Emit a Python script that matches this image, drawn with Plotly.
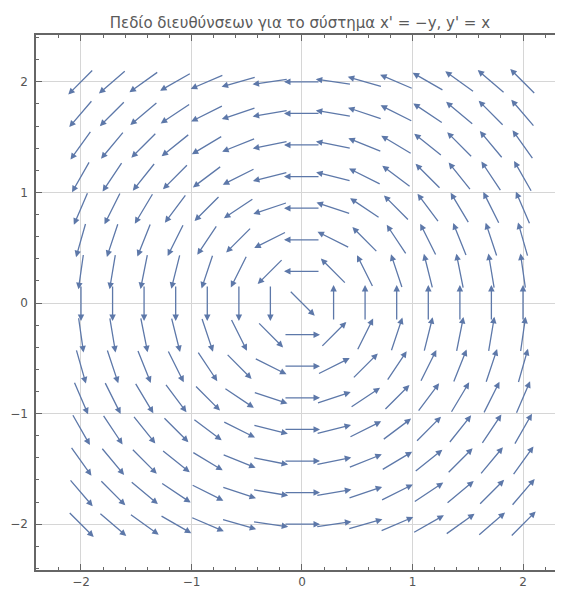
import plotly.graph_objects as go
import math

# Grid of sample points (15 x 15) over [-2, 2]
grid_x = [-2.0, -1.714, -1.429, -1.143, -0.857, -0.571, -0.286, 0.0,
          0.286, 0.571, 0.857, 1.143, 1.429, 1.714, 2.0]
grid_y = [-2.0, -1.714, -1.429, -1.143, -0.857, -0.571, -0.286, 0.0,
          0.286, 0.571, 0.857, 1.143, 1.429, 1.714, 2.0]
# System: x' = -y, y' = x ; zero vector at origin is drawn diagonally (as in the picture)
origin_dir = (1.0, -1.0)
arrow_len = 0.326          # uniform arrow length (data units)

title_text = "Πεδίο διευθύνσεων για το σύστημα x' = −y, y' = x"
tick_vals = [-2, -1, 0, 1, 2]
tick_text = ["−2", "−1", "0", "1", "2"]

ARROW_COLOR = "#5d78a9"

annotations = []
for gy in grid_y:
    for gx in grid_x:
        u, v = -gy, gx
        m = math.hypot(u, v)
        if m < 1e-9:
            u, v = origin_dir
            m = math.hypot(u, v)
        dx, dy = u / m * arrow_len / 2, v / m * arrow_len / 2
        annotations.append(dict(
            x=gx + dx, y=gy + dy, ax=gx - dx, ay=gy - dy,
            xref="x", yref="y", axref="x", ayref="y",
            text="", showarrow=True, arrowhead=2, arrowsize=1.0,
            arrowwidth=1.3, arrowcolor=ARROW_COLOR, standoff=0, startstandoff=0,
        ))

fig = go.Figure()
fig.add_trace(go.Scatter(x=[0], y=[0], mode="markers", marker=dict(opacity=0),
                         hoverinfo="skip", showlegend=False))
fig.add_trace(go.Scatter(x=[0], y=[0], mode="markers", marker=dict(opacity=0),
                         hoverinfo="skip", showlegend=False, xaxis="x2"))

FRAME = "#666666"
GRID = "#d6d6d6"
FONT = dict(family="DejaVu Sans, Liberation Sans, sans-serif", size=12, color="#555555")

# page body has an 8px margin: figure sized/offset to compensate
fig.update_layout(
    width=555, height=581,
    margin=dict(l=28, r=0, t=27, b=19),
    paper_bgcolor="white", plot_bgcolor="white",
    annotations=annotations,
    title=dict(text=title_text, x=0.526, xanchor="center", y=1 - 15 / 581, yanchor="middle",
               font=dict(family="DejaVu Sans, Liberation Sans, sans-serif", size=15, color="#5a5a5a")),
    xaxis=dict(range=[-2.407, 2.362], tickvals=tick_vals, ticktext=tick_text,
               showgrid=True, gridcolor=GRID, gridwidth=1, zeroline=False,
               showline=True, linecolor=FRAME, linewidth=1.5,
               ticks="inside", ticklen=6, tickcolor=FRAME, tickwidth=1,
               minor=dict(dtick=0.2, tick0=0, ticks="inside", ticklen=3.5, tickcolor=FRAME, showgrid=False),
               tickfont=FONT, ticklabelstandoff=0, fixedrange=True),
    xaxis2=dict(range=[-2.407, 2.362], overlaying="x", side="top", matches="x",
                tickvals=tick_vals, showticklabels=False, showgrid=False, zeroline=False,
                showline=True, linecolor=FRAME, linewidth=1.5,
                ticks="inside", ticklen=6, tickcolor=FRAME, tickwidth=1,
                minor=dict(dtick=0.2, tick0=0, ticks="inside", ticklen=3.5, tickcolor=FRAME, showgrid=False)),
    yaxis=dict(range=[-2.414, 2.423], tickvals=tick_vals, ticktext=tick_text,
               showgrid=True, gridcolor=GRID, gridwidth=1, zeroline=False,
               showline=True, linecolor=FRAME, linewidth=1.5,
               ticks="inside", ticklen=6, tickcolor=FRAME, tickwidth=1,
               minor=dict(dtick=0.2, tick0=0, ticks="inside", ticklen=3.5, tickcolor=FRAME, showgrid=False),
               tickfont=FONT, ticklabelstandoff=4, fixedrange=True),
    showlegend=False,
)

fig.write_html("out.html")
